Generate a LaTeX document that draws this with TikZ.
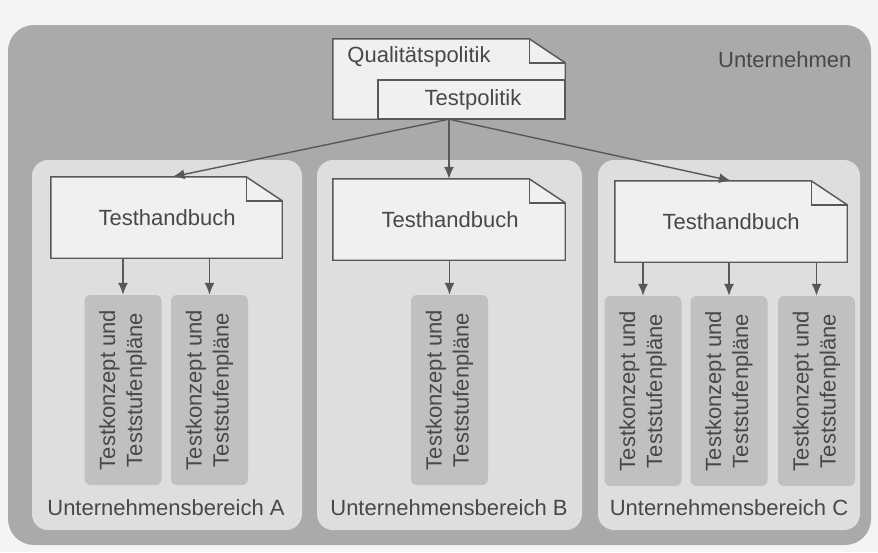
\documentclass[tikz,border=0pt]{standalone}
\usepackage{fontspec}
\setmainfont{Liberation Sans}
\usetikzlibrary{arrows.meta}

\definecolor{pagebg}{RGB}{244,244,244}
\definecolor{outergray}{RGB}{170,170,170}
\definecolor{panelgray}{RGB}{222,222,222}
\definecolor{planbox}{RGB}{192,192,192}
\definecolor{sheetfill}{RGB}{240,240,240}
\definecolor{inkgray}{RGB}{88,88,88}
\definecolor{textgray}{RGB}{72,72,72}

% outline of a sheet with a dog-eared upper right corner, drawn around a node
\newcommand{\foldedsheet}[1]{%
  \draw[sheetline, fill=sheetfill] (#1.north west) -- ([xshift=-36pt]#1.north east)
    -- ([yshift=-24pt]#1.north east) -- (#1.south east) -- (#1.south west) -- cycle;
  \draw[sheetline] ([xshift=-36pt]#1.north east) -- ([xshift=-36pt,yshift=-24pt]#1.north east)
    -- ([yshift=-24pt]#1.north east);
}

\begin{document}
\begin{tikzpicture}[x=1pt,y=-1pt,
  every node/.style={font=\fontsize{22}{27}\selectfont, text=textgray},
  sheet/.style={rectangle, inner sep=0pt},
  sheetline/.style={draw=inkgray, line width=1.4pt, line join=miter},
  plan/.style={rectangle, rounded corners=6pt, fill=planbox, inner sep=0pt,
               minimum width=77pt, minimum height=190pt},
  plantext/.style={rotate=90, align=center, inner sep=0pt},
  area/.style={rounded corners=16pt, fill=panelgray},
  link/.style={draw=inkgray, line width=1.4pt, -{Latex[length=12pt,width=10pt]}}
]
\useasboundingbox (0,0) rectangle (878,552);
\fill[pagebg] (0,0) rectangle (878,552);

% company frame
\fill[outergray, rounded corners=26pt] (8,25) rectangle (871,545);
\node[anchor=east] (firm) at (855,60) {Unternehmen};

% business unit panels
\fill[area] (32,160) rectangle (302,530);
\fill[area] (317,160) rectangle (582,530);
\fill[area] (598,160) rectangle (860,530);
\node (ua) at (166,508) {Unternehmensbereich A};
\node (ub) at (449,508) {Unternehmensbereich B};
\node (uc) at (729,508) {Unternehmensbereich C};

% quality policy with the test policy in front of it
\node[sheet, minimum width=232pt, minimum height=80pt] (qp) at (449,79) {};
\foldedsheet{qp}
\node[anchor=center] (qpt) at (419,57) {Qualitätspolitik};
\node[sheet, minimum width=187pt, minimum height=39pt, fill=sheetfill,
      draw=inkgray, line width=1.4pt] (tp) at (471.5,99.5) {};
\node (tpt) at (473,100) {Testpolitik};

% test handbooks
\node[sheet, minimum width=231pt, minimum height=81pt] (ha) at (166.5,217.5) {};
\foldedsheet{ha}
\node (hat) at (167,218) {Testhandbuch};
\node[sheet, minimum width=232pt, minimum height=81pt] (hb) at (449,219.5) {};
\foldedsheet{hb}
\node (hbt) at (450,220) {Testhandbuch};
\node[sheet, minimum width=232pt, minimum height=81pt] (hc) at (731,221.5) {};
\foldedsheet{hc}
\node (hct) at (731,222) {Testhandbuch};

% test concepts and level test plans
\node[plan] (pa1) at (123,390) {};
\node[plan] (pa2) at (209.5,390) {};
\node[plan] (pb1) at (449.5,390) {};
\node[plan] (pc1) at (643,391) {};
\node[plan] (pc2) at (729,391) {};
\node[plan] (pc3) at (816.5,391) {};
\foreach \p in {pa1,pa2,pb1,pc1,pc2,pc3}
  \node[plantext] at (\p) {Testkonzept und\\Teststufenpläne};

% policy to handbooks
\draw[link] (qp.south) -- ([xshift=6pt]ha.north);
\draw[link] (qp.south) -- (hb.north);
\draw[link] (qp.south) -- (hc.north);

% handbooks to plans
\foreach \h/\p in {ha/pa1, ha/pa2, hb/pb1, hc/pc1, hc/pc2, hc/pc3}
  \draw[link] (\p.north |- \h.south) -- (\p.north);
\end{tikzpicture}
\end{document}
